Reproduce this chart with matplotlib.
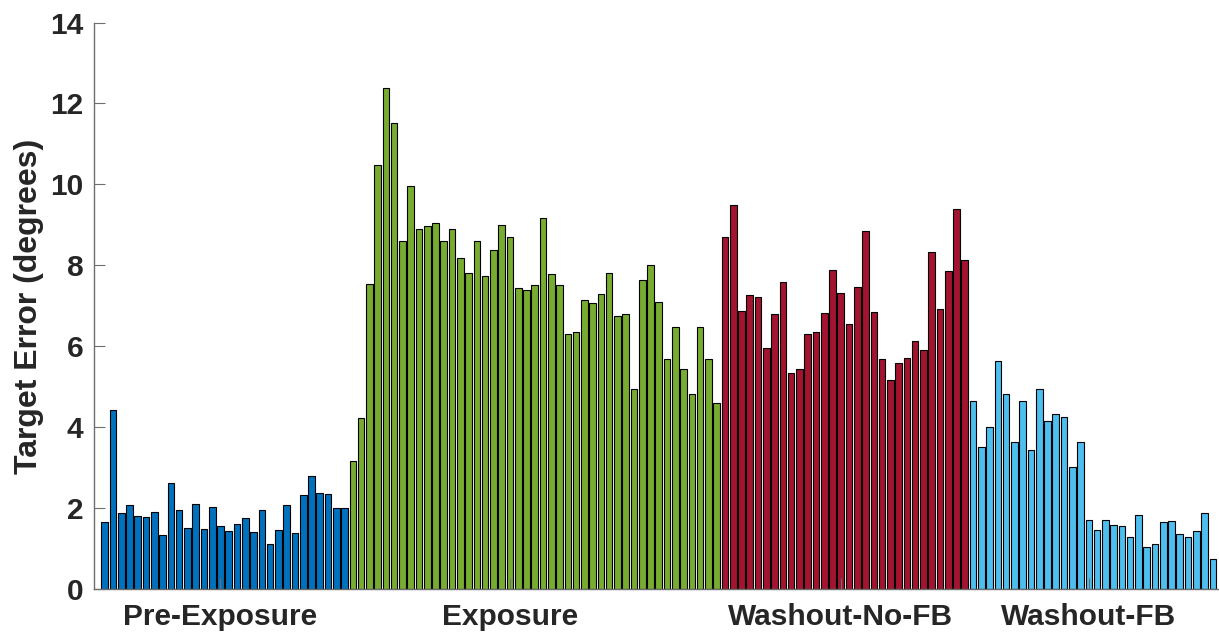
import matplotlib
matplotlib.use("Agg")
import matplotlib.pyplot as plt
import numpy as np

# target error per trial, one list per block
pre_exposure = [1.65, 4.43, 1.88, 2.09, 1.81, 1.79, 1.90, 1.35, 2.62, 1.97,
                1.52, 2.11, 1.49, 2.04, 1.57, 1.44, 1.61, 1.77, 1.42, 1.97,
                1.13, 1.47, 2.07, 1.38, 2.34, 2.80, 2.39, 2.36, 2.02, 2.02]
exposure = [3.16, 4.24, 7.53, 10.47, 12.38, 11.52, 8.60, 9.96, 8.89, 8.97,
            9.04, 8.60, 8.89, 8.18, 7.82, 8.60, 7.75, 8.39, 8.99, 8.69,
            7.44, 7.40, 7.51, 9.18, 7.79, 7.52, 6.31, 6.35, 7.15, 7.06,
            7.29, 7.82, 6.76, 6.81, 4.95, 7.64, 8.00, 7.10, 5.70, 6.47,
            5.43, 4.83, 6.49, 5.68, 4.61]
washout_nofb = [8.71, 9.49, 6.87, 7.27, 7.22, 5.96, 6.81, 7.59, 5.34, 5.43,
                6.30, 6.36, 6.83, 7.88, 7.33, 6.55, 7.47, 8.85, 6.85, 5.68,
                5.17, 5.58, 5.72, 6.13, 5.91, 8.34, 6.92, 7.87, 9.40, 8.14]
washout_fb = [4.66, 3.51, 4.00, 5.65, 4.83, 3.63, 4.66, 3.45, 4.94, 4.15,
              4.32, 4.25, 3.03, 3.65, 1.72, 1.47, 1.72, 1.59, 1.56, 1.28,
              1.84, 1.05, 1.13, 1.65, 1.69, 1.36, 1.28, 1.44, 1.88, 0.76]

blocks = [pre_exposure, exposure, washout_nofb, washout_fb]
colors = ["#0072BD", "#77AC30", "#A2142F", "#4DBEEE"]
block_names = ["Pre-Exposure", "Exposure", "Washout-No-FB", "Washout-FB"]
name_ticks = [15, 50, 90, 120]

plt.rcParams["font.family"] = ["Liberation Sans", "DejaVu Sans"]
plt.rcParams["font.weight"] = "bold"

fig = plt.figure(figsize=(12.19, 6.32), dpi=100)
ax = fig.add_axes([94.3 / 1219, (632 - 589.3) / 632, 1 - 94.3 / 1219, (589.3 - 22.5) / 632])

start = 1
for vals, col in zip(blocks, colors):
    x = np.arange(start, start + len(vals))
    ax.bar(x, vals, width=0.8, color=col, edgecolor="black", linewidth=0.8)
    start += len(vals)

ax.set_xlim(-0.26, 135.74)
ax.set_ylim(0, 14)
ax.set_yticks(range(0, 15, 2))
ax.set_xticks(name_ticks)
ax.set_xticklabels(block_names)

axis_col = "#6e6e6e"
for side in ["top", "right"]:
    ax.spines[side].set_visible(False)
for side in ["left", "bottom"]:
    ax.spines[side].set_color(axis_col)
    ax.spines[side].set_linewidth(1.0)

ax.tick_params(axis="both", direction="in", length=8, width=0.8, color=axis_col,
               labelsize=21.5, labelcolor="#262626")
ax.tick_params(axis="y", pad=8)
ax.tick_params(axis="x", pad=10)
for lab in ax.get_xticklabels() + ax.get_yticklabels():
    lab.set_fontweight("bold")

ax.set_ylabel("Target Error (degrees)", fontsize=23, fontweight="bold", color="#262626", labelpad=4)

fig.savefig("out.png", dpi=100)
